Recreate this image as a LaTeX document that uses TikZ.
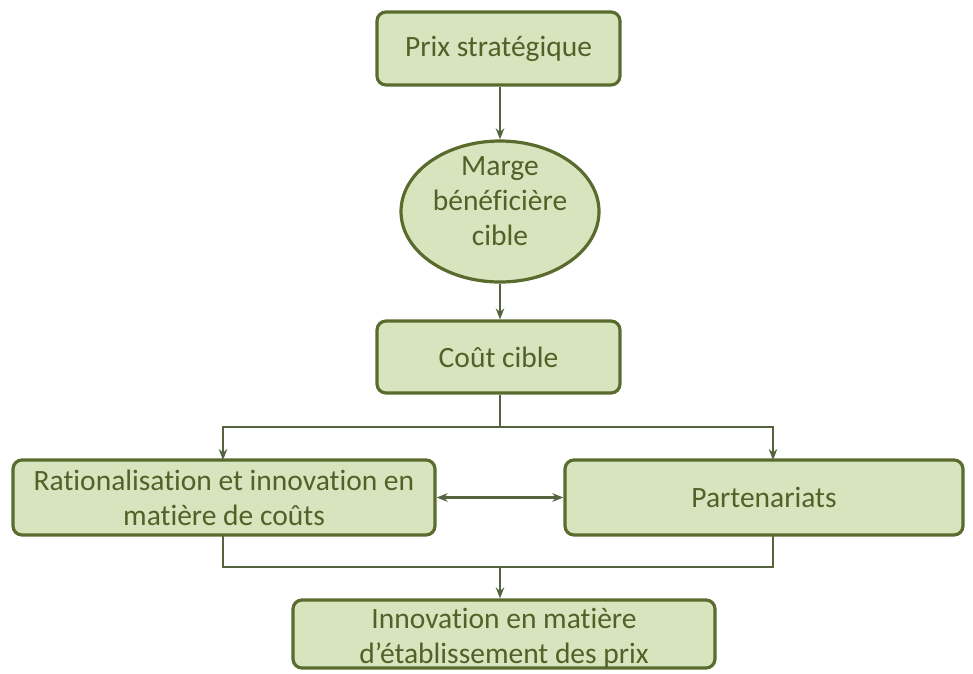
\documentclass[tikz,border=0pt]{standalone}
\usepackage{fontspec}
\setmainfont[Ligatures=NoCommon]{Carlito}
\usetikzlibrary{shapes.geometric,arrows.meta}
\definecolor{boxfill}{HTML}{D7E4BD}
\definecolor{boxline}{HTML}{5A6B2E}
\definecolor{txt}{HTML}{4F6228}
\definecolor{conn}{HTML}{56633F}
\begin{document}
\begin{tikzpicture}[x=1pt,y=-1pt,
  lbl/.style={text=txt,font=\fontsize{29.5}{35}\selectfont,align=center,inner sep=0pt},
  box/.style={lbl,draw=boxline,line width=3.2pt,fill=boxfill,rounded corners=9pt},
  ell/.style={draw=boxline,line width=3.2pt,fill=boxfill,ellipse,inner sep=0pt},
  conn/.style={draw=conn,line width=2.1pt},
  arr/.style={conn,-{Stealth[length=11pt,width=8.5pt]}},
  darr/.style={conn,{Stealth[length=11pt,width=8.5pt]}-{Stealth[length=11pt,width=8.5pt]}}]
\useasboundingbox (0,0) rectangle (973,673);
\node[box,minimum width=243pt,minimum height=73pt] (p) at (498.5,48.5) {Prix stratégique};
\node[ell,minimum width=198pt,minimum height=141pt] (m) at (500,211.5) {};
\node[lbl] (mt) at ([yshift=10pt]m.center) {Marge\\bénéficière\\cible};
\node[box,minimum width=243pt,minimum height=72pt] (c) at (498.5,357) {Coût cible};
\node[box,minimum width=422pt,minimum height=75pt] (r) at (224,497.5) {Rationalisation et innovation en\\matière de coûts};
\node[box,minimum width=398pt,minimum height=75pt] (pa) at (764,497.5) {Partenariats};
\node[box,minimum width=422pt,minimum height=68pt] (i) at (504,634) {};
\node[lbl] (it) at ([yshift=-4pt]i.center) {Innovation en matière\\d’établissement des prix};
\coordinate (j1) at (500,427);
\coordinate (j2) at (500,567);
\coordinate (rt) at (223,460);
\coordinate (pt) at (773,460);
\coordinate (rb) at (223,535);
\coordinate (pb) at (773,535);
\draw[arr] (p.south -| j1) -- (m.north);
\draw[arr] (m.south) -- (c.north -| j1);
\draw[conn] (c.south -| j1) -- (j1);
\draw[arr] (j1) -| (rt);
\draw[arr] (j1) -| (pt);
\draw[darr] (r.east) -- (pa.west);
\draw[conn] (rb) |- (j2);
\draw[conn] (pb) |- (j2);
\draw[arr] (j2) -- (j2 |- i.north);
\end{tikzpicture}
\end{document}
